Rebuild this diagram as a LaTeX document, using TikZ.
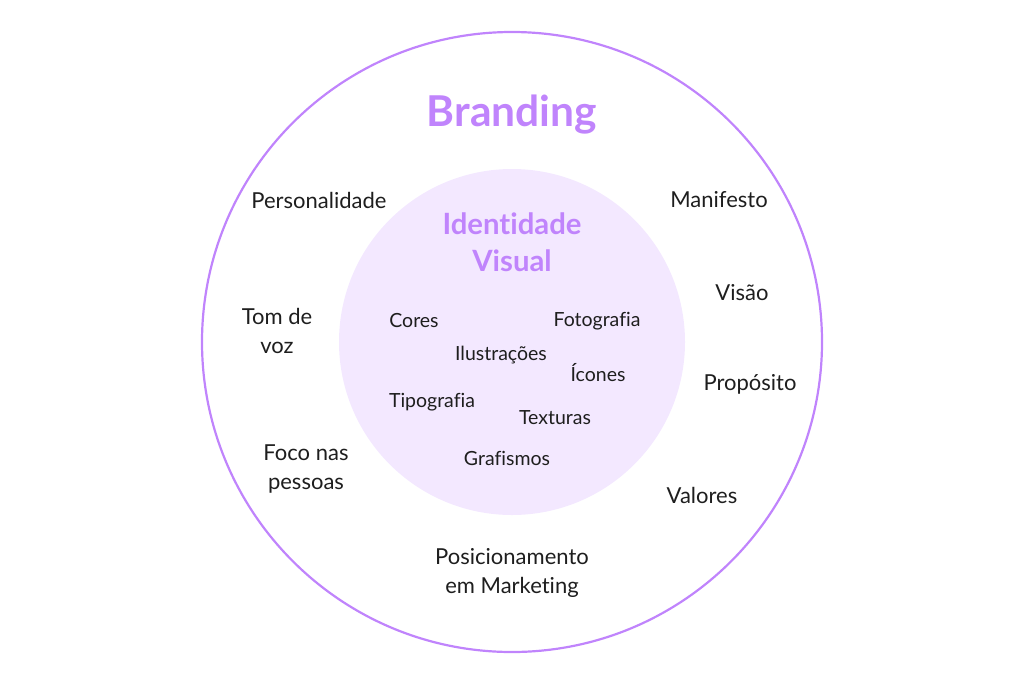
\documentclass[tikz,border=0pt]{standalone}
\usepackage{fontspec}
\setmainfont[Ligatures={NoCommon,NoContextual}]{Lato}
\definecolor{purp}{HTML}{C084FC}
\definecolor{lilac}{HTML}{F3E8FF}
\definecolor{ink}{HTML}{1E1E1E}
\tikzset{
  outerlbl/.style={text=ink, font=\fontsize{22}{29}\selectfont, align=center, inner sep=0pt},
  innerlbl/.style={text=ink, font=\fontsize{19.5}{22}\selectfont, align=center, inner sep=0pt},
}
\begin{document}
\begin{tikzpicture}[x=1pt,y=-1pt]
\useasboundingbox (0,0) rectangle (1024,683);
\node[circle, draw=purp, line width=2.2pt, minimum size=620pt, inner sep=0pt] (outer) at (512,342) {};
\node[circle, fill=lilac, minimum size=346pt, inner sep=0pt] (inner) at (512,342) {};
\node[text=purp, font=\fontsize{42.5}{50}\selectfont\bfseries, inner sep=0pt] (branding) at (512,115) {Branding};
\node[text=purp, font=\fontsize{29.3}{37}\selectfont\bfseries, align=center, inner sep=0pt] (iv) at (512,242) {Identidade\\Visual};
\node[outerlbl] (pers) at (319,200) {Personalidade};
\node[outerlbl] (manif) at (719,200) {Manifesto};
\node[outerlbl] (visao) at (742,293) {Visão};
\node[outerlbl] (tom) at (277,331) {Tom de\\voz};
\node[outerlbl] (prop) at (750,384) {Propósito};
\node[outerlbl] (foco) at (306,469) {Foco nas\\pessoas};
\node[outerlbl] (valores) at (702,495) {Valores};
\node[outerlbl] (posic) at (512,573) {Posicionamento\\em Marketing};
\node[innerlbl] (cores) at (414,321) {Cores};
\node[innerlbl] (foto) at (597,321) {Fotografia};
\node[innerlbl] (ilus) at (501,355) {Ilustrações};
\node[innerlbl] (icones) at (598,373) {Ícones};
\node[innerlbl] (tipo) at (432,402) {Tipografia};
\node[innerlbl] (text) at (555,418) {Texturas};
\node[innerlbl] (graf) at (507,458) {Grafismos};
\end{tikzpicture}
\end{document}
